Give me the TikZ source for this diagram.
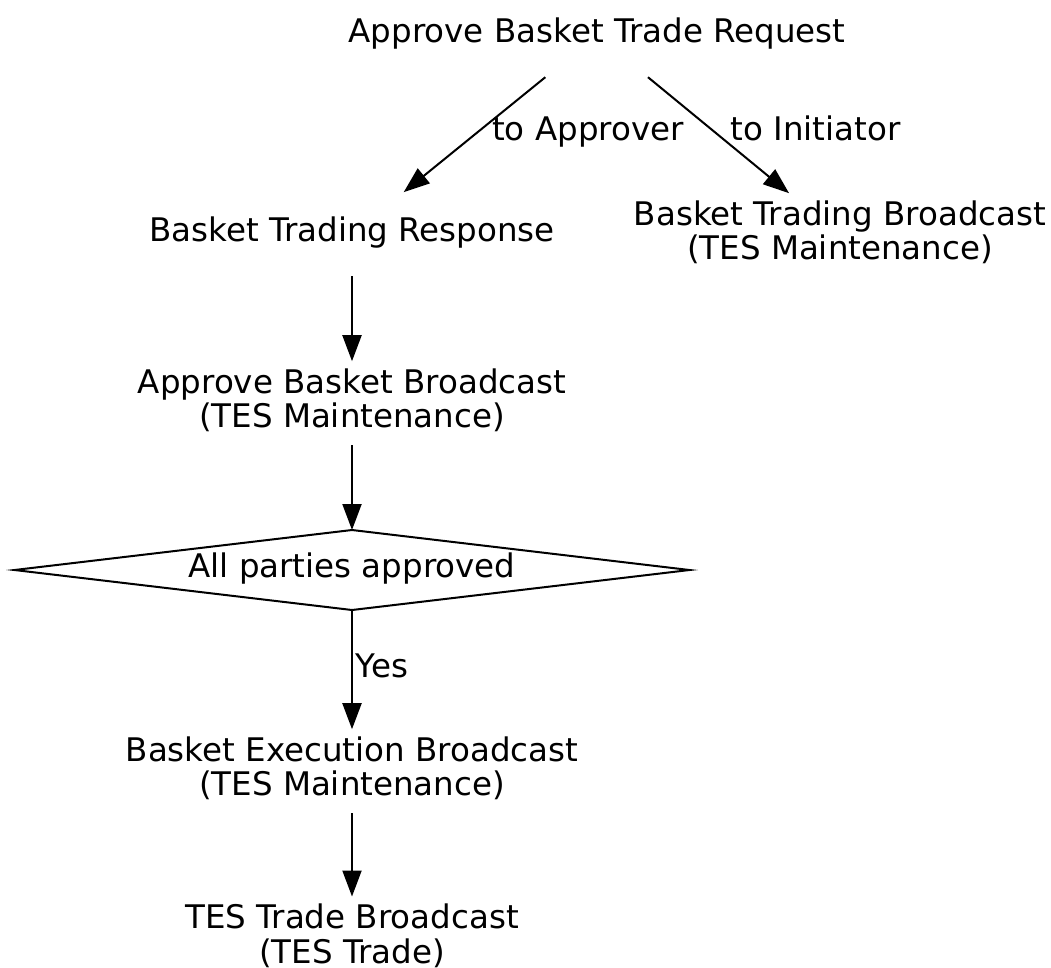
\documentclass[tikz,border=0pt]{standalone}
\usepackage{fontspec}
\setmainfont{DejaVu Sans}
\usetikzlibrary{arrows.meta,shapes.geometric}
\newcommand\lbl[1]{\begin{tabular}{@{}c@{}}#1\end{tabular}}
\begin{document}
\begin{tikzpicture}[x=1pt,y=-1pt,
  every node/.style={font=\fontsize{32.5}{34}\selectfont, inner sep=0pt, outer sep=0pt},
  box/.style={minimum height=84pt, minimum width=100pt},
  arr/.style={line width=2pt, -{Triangle[length=26pt,width=19pt]}},
  decision/.style={diamond, draw, line width=2pt, aspect=8.5, minimum width=675pt, minimum height=80pt}]
\useasboundingbox (0,0) rectangle (1051,967);
\node[box] (req) at (597,35.2) {\lbl{Approve Basket Trade Request}};
\node[box] (resp) at (352,234.2) {\lbl{Basket Trading Response}};
\node[box] (bcast) at (840,235.2) {\lbl{Basket Trading Broadcast\\(TES Maintenance)}};
\node[box] (appr) at (352,403.2) {\lbl{Approve Basket Broadcast\\(TES Maintenance)}};
\node[decision] (dia) at (352,570) {\lbl{All parties approved}};
\node[box] (exec) at (352,771.2) {\lbl{Basket Execution Broadcast\\(TES Maintenance)}};
\node[box] (tes) at (352,938.5) {\lbl{TES Trade Broadcast\\(TES Trade)}};
\node (lapp) at (588,133.2) {\lbl{to Approver}};
\node (lini) at (815.5,133.2) {\lbl{to Initiator}};
\node (lyes) at (382,670.2) {\lbl{Yes}};
\draw[arr] (req) -- (resp);
\draw[arr] (req) -- (bcast);
\draw[arr] (resp) -- (appr);
\draw[arr] (appr) -- (dia);
\draw[arr] (dia) -- (exec);
\draw[arr] (exec) -- (tes);
\end{tikzpicture}
\end{document}
